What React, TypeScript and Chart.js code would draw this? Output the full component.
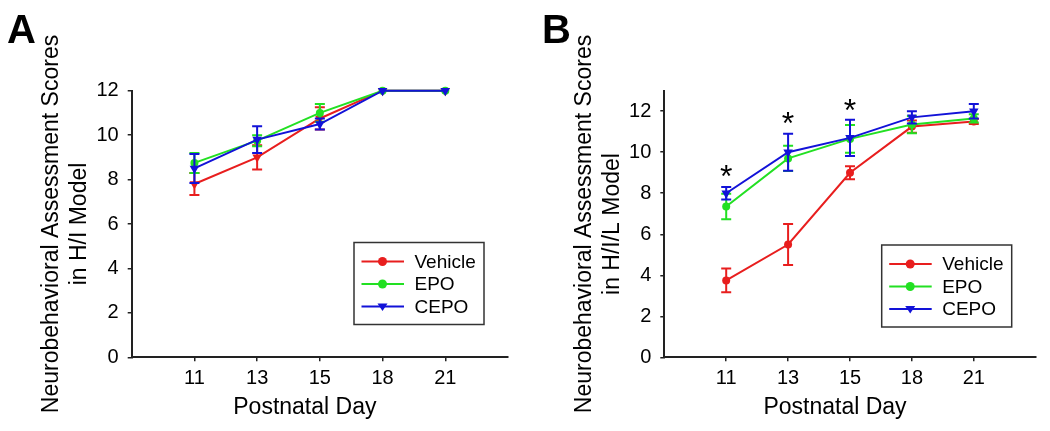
import React, { useEffect, useRef } from "react";
import { Chart, registerables } from "chart.js";

Chart.register(...registerables);

// ---------- data ----------
const days = ["11", "13", "15", "18", "21"];
const seriesNames = ["Vehicle", "EPO", "CEPO"];

const aVehicle = [7.8, 9.0, 10.75, 12, 12];
const aVehicleErr = [0.5, 0.55, 0.5, 0, 0];
const aEPO = [8.75, 9.75, 11.0, 12, 12];
const aEPOErr = [0.45, 0.25, 0.4, 0, 0];
const aCEPO = [8.5, 9.8, 10.5, 12, 12];
const aCEPOErr = [0.65, 0.6, 0.25, 0, 0];

const bVehicle = [3.75, 5.5, 9.0, 11.25, 11.5];
const bVehicleErr = [0.58, 1.0, 0.32, 0.3, 0.12];
const bEPO = [7.35, 9.7, 10.65, 11.35, 11.65];
const bEPOErr = [0.62, 0.62, 0.68, 0.42, 0.2];
const bCEPO = [8.0, 10.0, 10.7, 11.7, 12.0];
const bCEPOErr = [0.3, 0.9, 0.88, 0.3, 0.35];

const bStarIdx = [0, 1, 2];
const bStarY = [9.2, 11.75, 12.4];

const yTicks = [0, 2, 4, 6, 8, 10, 12];

// ---------- styles ----------
const FONT = "'Liberation Sans', Arial, sans-serif";
const COLORS = ["#e81e1e", "#22e022", "#1212d8"];
const LEGEND_STYLES = ["circle", "circle", "tri"];

function toPoints(vals: number[]) {
  return vals.map((v, i) => ({ x: i + 1, y: v }));
}

function drawMarker(ctx: CanvasRenderingContext2D, style: string, x: number, y: number, color: string) {
  ctx.fillStyle = color;
  ctx.beginPath();
  if (style === "tri") {
    const r = 5;
    ctx.moveTo(x - r, y - r * 0.6);
    ctx.lineTo(x + r, y - r * 0.6);
    ctx.lineTo(x, y + r * 0.9);
    ctx.closePath();
  } else {
    ctx.arc(x, y, 4.5, 0, Math.PI * 2);
  }
  ctx.fill();
}

const errorBarPlugin = {
  id: "errorBars",
  beforeDatasetDraw(chart: any, args: any, opts: any) {
    const errs = opts.errors?.[args.index];
    if (!errs) return;
    const ctx = chart.ctx;
    const ys = chart.scales.y;
    const ds = chart.data.datasets[args.index];
    ctx.save();
    ctx.strokeStyle = ds.borderColor;
    ctx.lineWidth = 2;
    args.meta.data.forEach((pt: any, j: number) => {
      const e = errs[j];
      if (!e) return;
      const v = ds.data[j].y;
      const t = ys.getPixelForValue(v + e);
      const b = ys.getPixelForValue(v - e);
      const x = pt.x;
      ctx.beginPath();
      ctx.moveTo(x, t);
      ctx.lineTo(x, b);
      ctx.moveTo(x - 5, t);
      ctx.lineTo(x + 5, t);
      ctx.moveTo(x - 5, b);
      ctx.lineTo(x + 5, b);
      ctx.stroke();
    });
    ctx.restore();
  },
};

const decoPlugin = {
  id: "deco",
  afterDraw(chart: any, _args: any, opts: any) {
    const ctx = chart.ctx;
    const ca = chart.chartArea;
    ctx.save();
    // panel letter
    ctx.fillStyle = "#000";
    ctx.font = `bold 40px ${FONT}`;
    ctx.textAlign = "left";
    ctx.textBaseline = "alphabetic";
    ctx.fillText(opts.letter, opts.letterX, 43);
    // x title
    ctx.font = `23px ${FONT}`;
    ctx.textAlign = "center";
    ctx.textBaseline = "middle";
    ctx.fillStyle = "#000";
    ctx.fillText("Postnatal Day", (ca.left + ca.right) / 2 - 15, 408);
    // stars
    if (opts.stars) {
      const xs = chart.scales.x;
      const ys = chart.scales.y;
      ctx.font = `32px ${FONT}`;
      ctx.textBaseline = "alphabetic";
      opts.stars.idx.forEach((ix: number, k: number) => {
        const px = xs.getPixelForValue(ix + 1);
        const py = ys.getPixelForValue(opts.stars.y[k]);
        ctx.fillText("*", px, py + 18);
      });
    }
    // legend
    const w = 130;
    const h = 82;
    const lx = ca.right - 24 - w;
    const ly = opts.legendTop;
    ctx.strokeStyle = "#333";
    ctx.lineWidth = 1.5;
    ctx.strokeRect(lx, ly, w, h);
    ctx.font = `19px ${FONT}`;
    ctx.textAlign = "left";
    ctx.textBaseline = "middle";
    chart.data.datasets.forEach((ds: any, i: number) => {
      const ry = ly + 19 + i * 22.5;
      ctx.strokeStyle = ds.borderColor;
      ctx.lineWidth = 2;
      ctx.beginPath();
      ctx.moveTo(lx + 7.5, ry);
      ctx.lineTo(lx + 50, ry);
      ctx.stroke();
      drawMarker(ctx, LEGEND_STYLES[i], lx + 28.5, ry, ds.borderColor);
      ctx.fillStyle = "#000";
      ctx.fillText(ds.label, lx + 60.5, ry + 1);
    });
    ctx.restore();
  },
};

function makeConfig(p: {
  series: number[][];
  errors: number[][];
  markers: string[];
  yMax: number;
  yTitle: string[];
  yWidth: number;
  titlePad: number;
  rightPad: number;
  letter: string;
  letterX: number;
  legendTop: number;
  stars?: { idx: number[]; y: number[] };
}) {
  const datasets = p.series.map((vals, i) => ({
    label: seriesNames[i],
    data: toPoints(vals),
    borderColor: COLORS[i],
    backgroundColor: COLORS[i],
    borderWidth: 2,
    pointStyle: p.markers[i] === "tri" ? "triangle" : "circle",
    rotation: p.markers[i] === "tri" ? 180 : 0,
    pointRadius: p.markers[i] === "tri" ? 5.5 : 4,
    pointBorderWidth: 0,
    order: 2 - i,
    tension: 0,
    clip: false,
  }));
  return {
    type: "line",
    data: { datasets },
    options: {
      animation: false,
      responsive: false,
      maintainAspectRatio: false,
      layout: { padding: { left: 0, top: 90.7, right: p.rightPad, bottom: 0 } },
      plugins: {
        legend: { display: false },
        tooltip: { enabled: false },
        errorBars: { errors: p.errors },
        deco: { letter: p.letter, letterX: p.letterX, legendTop: p.legendTop, stars: p.stars },
      },
      scales: {
        x: {
          type: "linear",
          min: 0,
          max: 6,
          afterBuildTicks: (s: any) => {
            s.ticks = days.map((_, i) => ({ value: i + 1 }));
          },
          afterFit: (s: any) => {
            s.height = 431 - 357.3;
          },
          ticks: {
            callback: (v: number) => days[v - 1] ?? "",
            font: { family: FONT, size: 20 },
            color: "#000",
            padding: 5,
            maxRotation: 0,
          },
          grid: { display: true, drawOnChartArea: false, drawTicks: true, tickLength: 4, color: "#222", lineWidth: 1.5 },
          border: { display: true, color: "#222", width: 2 },
        },
        y: {
          type: "linear",
          min: 0,
          max: p.yMax,
          afterBuildTicks: (s: any) => {
            s.ticks = yTicks.map((v) => ({ value: v }));
          },
          afterFit: (s: any) => {
            s.width = p.yWidth;
          },
          ticks: {
            font: { family: FONT, size: 20 },
            color: "#000",
            padding: 9,
          },
          grid: { display: true, drawOnChartArea: false, drawTicks: true, tickLength: 4, color: "#222", lineWidth: 1.5 },
          border: { display: true, color: "#222", width: 2 },
          title: {
            display: true,
            text: p.yTitle,
            font: { family: FONT, size: 23, lineHeight: 1.22 },
            color: "#000",
            padding: { top: p.titlePad, bottom: 0 },
          },
        },
      },
    },
    plugins: [errorBarPlugin, decoPlugin],
  } as any;
}

function Panel({ config, left }: { config: any; left: number }) {
  const ref = useRef<HTMLCanvasElement | null>(null);
  useEffect(() => {
    if (!ref.current) return;
    const chart = new Chart(ref.current, config);
    return () => chart.destroy();
  }, [config]);
  return (
    <canvas
      ref={ref}
      width={525}
      height={431}
      style={{ position: "absolute", left, top: 0, width: 525, height: 431 }}
    />
  );
}

const configA = makeConfig({
  series: [aVehicle, aEPO, aCEPO],
  errors: [aVehicleErr, aEPOErr, aCEPOErr],
  markers: ["tri", "circle", "tri"],
  yMax: 12,
  yTitle: ["Neurobehavioral Assessment Scores", "in H/I Model"],
  yWidth: 131.7,
  titlePad: 38,
  rightPad: 17,
  letter: "A",
  letterX: 7,
  legendTop: 242.5,
});

const configB = makeConfig({
  series: [bVehicle, bEPO, bCEPO],
  errors: [bVehicleErr, bEPOErr, bCEPOErr],
  markers: ["circle", "circle", "tri"],
  yMax: 13,
  yTitle: ["Neurobehavioral Assessment Scores", "in H/I/L Model"],
  yWidth: 139.3,
  titlePad: 46,
  rightPad: 14.3,
  letter: "B",
  letterX: 17,
  legendTop: 245,
  stars: { idx: bStarIdx, y: bStarY },
});

export default function App() {
  return (
    <div style={{ position: "fixed", left: 0, top: 0, width: 1050, height: 431, background: "#fff" }}>
      <Panel config={configA} left={0} />
      <Panel config={configB} left={525} />
    </div>
  );
}
